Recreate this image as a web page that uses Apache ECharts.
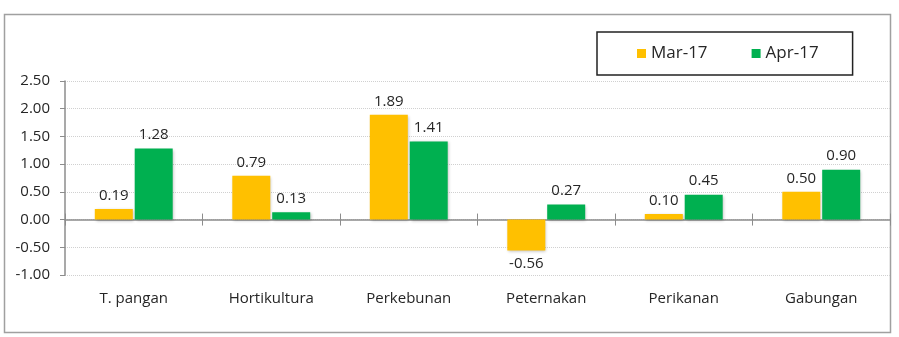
<!DOCTYPE html>
<html><head><meta charset="utf-8">
<script src="https://cdn.jsdelivr.net/npm/echarts@6/dist/echarts.min.js"></script>
<style>html,body{margin:0;padding:0;background:#fff}#c{width:899px;height:337px}</style>
</head><body><div id="c"></div>
<script>
var categories = ['T. pangan','Hortikultura','Perkebunan','Peternakan','Perikanan','Gabungan'];
var seriesNames = ['Mar-17','Apr-17'];
var mar17 = [0.19, 0.79, 1.89, -0.56, 0.10, 0.50];
var apr17 = [1.28, 0.13, 1.41, 0.27, 0.45, 0.90];
var yTicks = [-1.00, -0.50, 0.00, 0.50, 1.00, 1.50, 2.00, 2.50];

var FONT = '"Open Sans", sans-serif';
var chart = echarts.init(document.getElementById('c'));
function lbl(v){ return {show:true, position: v<0?'bottom':'top', distance:6, color:'#262626', fontSize:15, fontFamily:FONT, formatter:function(p){return p.value.toFixed(2);}}; }
function mk(arr){ return arr.map(function(v){ return {value:v, label:lbl(v)}; }); }
var shadow = {shadowColor:'rgba(0,0,0,0.25)', shadowBlur:3, shadowOffsetX:1, shadowOffsetY:1};
chart.setOption({
  animation:false,
  graphic:[{type:'rect', shape:{x:4.5,y:14.5,width:886,height:318}, style:{fill:'none', stroke:'#a0a0a0', lineWidth:1.5}, z:-1}],
  grid:{left:65, right:9, top:81, bottom:62},
  legend:{
    data:seriesNames, left:597, top:32, itemWidth:9, itemHeight:9, itemGap:44,
    padding:[13,34,13,40], borderColor:'#222', borderWidth:1.5, backgroundColor:'#fff',
    icon:'rect', textStyle:{fontSize:17, fontFamily:FONT, color:'#262626'}
  },
  xAxis:[
    {type:'category', data:categories, position:'bottom',
     axisLine:{show:false}, axisTick:{show:false},
     axisLabel:{fontSize:15, fontFamily:FONT, color:'#262626', margin:16}},
    {type:'category', data:categories, position:'bottom', gridIndex:0,
     axisLine:{show:true, onZero:true, onZeroAxisIndex:0, lineStyle:{color:'#8c8c8c', width:1.5}},
     axisTick:{show:true, length:6, lineStyle:{color:'#8c8c8c'}}, axisLabel:{show:false}},
    {type:'category', data:categories, position:'bottom', gridIndex:0,
     axisLine:{show:true, onZero:true, onZeroAxisIndex:0, lineStyle:{color:'rgba(0,0,0,0)', width:0}},
     axisTick:{show:true, inside:true, length:6, lineStyle:{color:'#8c8c8c'}}, axisLabel:{show:false}}
  ],
  yAxis:{type:'value', min:-1, max:2.5, interval:0.5,
    axisLine:{show:true, lineStyle:{color:'#8c8c8c', width:1.5}},
    axisTick:{show:true, length:5, lineStyle:{color:'#8c8c8c'}},
    axisLabel:{fontSize:15, fontFamily:FONT, color:'#262626', margin:15, formatter:function(v){return v.toFixed(2);}},
    splitLine:{show:true, lineStyle:{color:'#d0d0d0', type:'dotted', width:1}}
  },
  series:[
    {name:seriesNames[0], type:'bar', data:mk(mar17), barWidth:38, barGap:'5%', itemStyle:Object.assign({color:'#FFC000'},shadow)},
    {name:seriesNames[1], type:'bar', data:mk(apr17), barWidth:38, barGap:'5%', itemStyle:Object.assign({color:'#00B050'},shadow)}
  ]
});
</script></body></html>
